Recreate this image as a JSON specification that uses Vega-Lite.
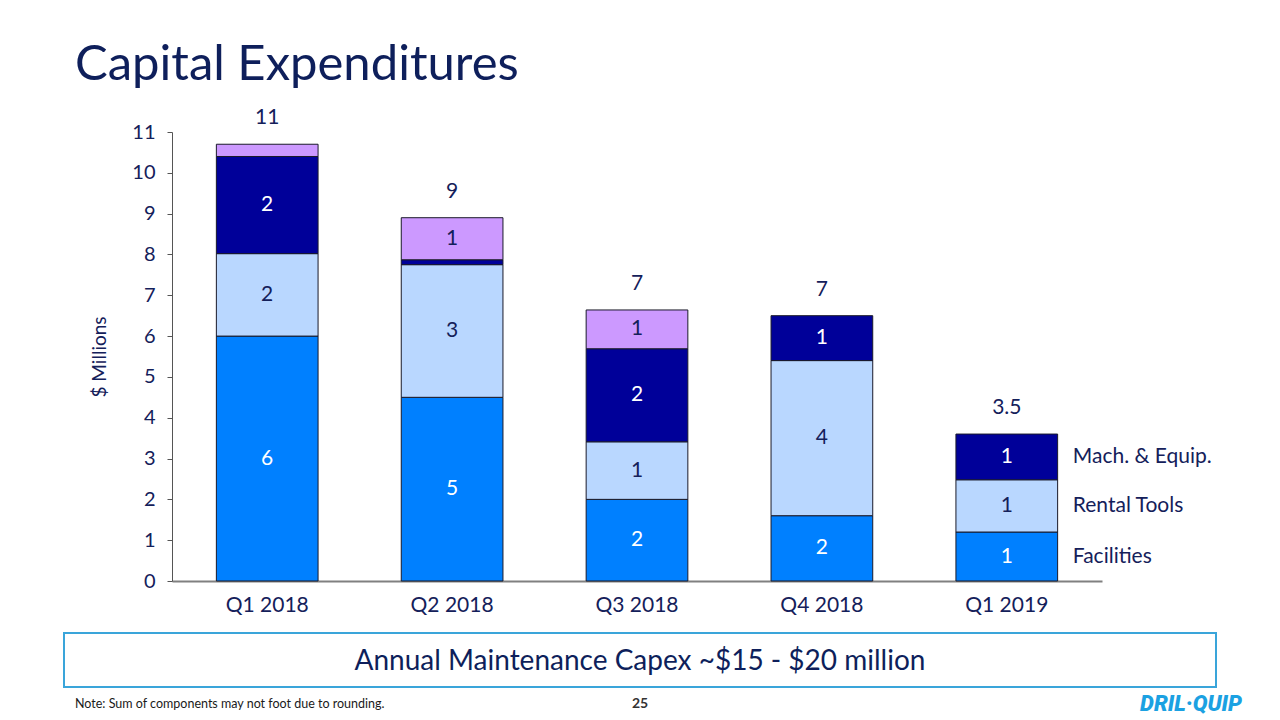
{
  "$schema": "https://vega.github.io/schema/vega-lite/v6.json",
  "width": 930,
  "height": 449,
  "autosize": {"type": "none"},
  "padding": {"left": 172, "top": 132, "right": 178, "bottom": 139},
  "background": "white",
  "config": {"view": {"stroke": null}, "font": "Lato", "text": {"font": "Lato"}},
  "datasets": {
    "segments": [
      {"quarter": "Q1 2018", "category": "Facilities", "order": 1, "value": 6.0, "label": "6"},
      {"quarter": "Q1 2018", "category": "Rental Tools", "order": 2, "value": 2.02, "label": "2"},
      {"quarter": "Q1 2018", "category": "Mach. & Equip.", "order": 3, "value": 2.38, "label": "2"},
      {"quarter": "Q1 2018", "category": "Other", "order": 4, "value": 0.3, "label": ""},
      {"quarter": "Q2 2018", "category": "Facilities", "order": 1, "value": 4.5, "label": "5"},
      {"quarter": "Q2 2018", "category": "Rental Tools", "order": 2, "value": 3.25, "label": "3"},
      {"quarter": "Q2 2018", "category": "Mach. & Equip.", "order": 3, "value": 0.12, "label": ""},
      {"quarter": "Q2 2018", "category": "Other", "order": 4, "value": 1.03, "label": "1"},
      {"quarter": "Q3 2018", "category": "Facilities", "order": 1, "value": 2.0, "label": "2"},
      {"quarter": "Q3 2018", "category": "Rental Tools", "order": 2, "value": 1.41, "label": "1"},
      {"quarter": "Q3 2018", "category": "Mach. & Equip.", "order": 3, "value": 2.28, "label": "2"},
      {"quarter": "Q3 2018", "category": "Other", "order": 4, "value": 0.95, "label": "1"},
      {"quarter": "Q4 2018", "category": "Facilities", "order": 1, "value": 1.6, "label": "2"},
      {"quarter": "Q4 2018", "category": "Rental Tools", "order": 2, "value": 3.8, "label": "4"},
      {"quarter": "Q4 2018", "category": "Mach. & Equip.", "order": 3, "value": 1.1, "label": "1"},
      {"quarter": "Q1 2019", "category": "Facilities", "order": 1, "value": 1.2, "label": "1"},
      {"quarter": "Q1 2019", "category": "Rental Tools", "order": 2, "value": 1.28, "label": "1"},
      {"quarter": "Q1 2019", "category": "Mach. & Equip.", "order": 3, "value": 1.12, "label": "1"}
    ],
    "totals": [
      {"quarter": "Q1 2018", "total": 10.7, "label": "11"},
      {"quarter": "Q2 2018", "total": 8.9, "label": "9"},
      {"quarter": "Q3 2018", "total": 6.64, "label": "7"},
      {"quarter": "Q4 2018", "total": 6.5, "label": "7"},
      {"quarter": "Q1 2019", "total": 3.6, "label": "3.5"}
    ]
  },
  "layer": [
    {
      "data": {"name": "segments"},
      "transform": [
        {"stack": "value", "groupby": ["quarter"], "sort": [{"field": "order"}], "as": ["y0", "y1"]}
      ],
      "mark": {"type": "bar", "stroke": "#1a1a2a", "strokeWidth": 1},
      "encoding": {
        "x": {
          "field": "quarter", "type": "nominal",
          "sort": ["Q1 2018", "Q2 2018", "Q3 2018", "Q4 2018", "Q1 2019"],
          "scale": {"paddingInner": 0.45, "paddingOuter": 0.24},
          "axis": {"title": null, "labelAngle": 0, "labelFontSize": 21, "labelColor": "#14205A", "labelPadding": 13, "ticks": false, "domainColor": "#808080", "domainWidth": 2}
        },
        "y": {
          "field": "y1", "type": "quantitative",
          "scale": {"domain": [0, 11], "nice": false, "zero": true},
          "axis": {"title": "$ Millions", "titleFontSize": 19, "titleFontWeight": "normal", "titleColor": "#14205A", "titlePadding": 22, "values": [0, 1, 2, 3, 4, 5, 6, 7, 8, 9, 10, 11], "labelFontSize": 20, "labelColor": "#14205A", "labelPadding": 12, "tickSize": 5, "tickColor": "#555555", "domainColor": "#555555", "grid": false}
        },
        "y2": {"field": "y0"},
        "color": {
          "field": "category", "type": "nominal", "legend": null,
          "scale": {"domain": ["Facilities", "Rental Tools", "Mach. & Equip.", "Other"], "range": ["#0080FF", "#B9D7FF", "#000099", "#CC99FF"]}
        }
      }
    },
    {
      "data": {"name": "segments"},
      "transform": [
        {"stack": "value", "groupby": ["quarter"], "sort": [{"field": "order"}], "as": ["y0", "y1"]},
        {"calculate": "(datum.y0 + datum.y1) / 2", "as": "mid"},
        {"filter": "datum.label != ''"}
      ],
      "mark": {"type": "text", "fontSize": 21, "baseline": "middle", "align": "center"},
      "encoding": {
        "x": {"field": "quarter", "type": "nominal", "sort": ["Q1 2018", "Q2 2018", "Q3 2018", "Q4 2018", "Q1 2019"]},
        "y": {"field": "mid", "type": "quantitative"},
        "text": {"field": "label"},
        "color": {"condition": {"test": "datum.category == 'Facilities' || datum.category == 'Mach. & Equip.'", "value": "#FFFFFF"}, "value": "#14205A"}
      }
    },
    {
      "data": {"name": "segments"},
      "transform": [
        {"stack": "value", "groupby": ["quarter"], "sort": [{"field": "order"}], "as": ["y0", "y1"]},
        {"calculate": "(datum.y0 + datum.y1) / 2", "as": "mid"},
        {"filter": "datum.quarter == 'Q1 2019'"}
      ],
      "mark": {"type": "text", "fontSize": 21, "baseline": "middle", "align": "left", "dx": 66, "color": "#14205A"},
      "encoding": {
        "x": {"field": "quarter", "type": "nominal", "sort": ["Q1 2018", "Q2 2018", "Q3 2018", "Q4 2018", "Q1 2019"]},
        "y": {"field": "mid", "type": "quantitative"},
        "text": {"field": "category"}
      }
    },
    {
      "data": {"name": "totals"},
      "mark": {"type": "text", "fontSize": 21, "baseline": "middle", "align": "center", "dy": -26, "color": "#14205A"},
      "encoding": {
        "x": {"field": "quarter", "type": "nominal", "sort": ["Q1 2018", "Q2 2018", "Q3 2018", "Q4 2018", "Q1 2019"]},
        "y": {"field": "total", "type": "quantitative"},
        "text": {"field": "label"}
      }
    },
    {
      "data": {"values": [{"t": "Capital Expenditures"}]},
      "mark": {"type": "text", "x": -97, "y": -52, "align": "left", "baseline": "alphabetic", "fontSize": 49, "color": "#0E1F5B"},
      "encoding": {"text": {"field": "t"}}
    },
    {
      "data": {"values": [{}]},
      "mark": {"type": "rule", "x": -108, "x2": 1044, "y": -35, "y2": -35, "stroke": "#0E1F5B", "strokeWidth": 2.5},
      "encoding": {}
    },
    {
      "data": {"values": [{}]},
      "mark": {"type": "rect", "x": -108, "x2": 1044, "y": 501, "y2": 555, "fill": "white", "stroke": "#3AA5DA", "strokeWidth": 2},
      "encoding": {}
    },
    {
      "data": {"values": [{"t": "Annual Maintenance Capex ~$15 - $20 million"}]},
      "mark": {"type": "text", "x": 468, "y": 530, "align": "center", "baseline": "middle", "fontSize": 28, "color": "#0E1F5B"},
      "encoding": {"text": {"field": "t"}}
    },
    {
      "data": {"values": [{"t": "Note: Sum of components may not foot due to rounding."}]},
      "mark": {"type": "text", "x": -97, "y": 572, "align": "left", "baseline": "middle", "fontSize": 12.5, "color": "#1a1a1a"},
      "encoding": {"text": {"field": "t"}}
    },
    {
      "data": {"values": [{"t": "25"}]},
      "mark": {"type": "text", "x": 468, "y": 572, "align": "center", "baseline": "middle", "fontSize": 14, "fontWeight": "bold", "color": "#333333"},
      "encoding": {"text": {"field": "t"}}
    },
    {
      "data": {"values": [{"t": "DRIL·QUIP"}]},
      "mark": {"type": "text", "x": 1019, "y": 572, "align": "center", "baseline": "middle", "fontSize": 22, "fontWeight": 900, "fontStyle": "italic", "font": "Roboto", "color": "#1BA1E2"},
      "encoding": {"text": {"field": "t"}}
    }
  ]
}
